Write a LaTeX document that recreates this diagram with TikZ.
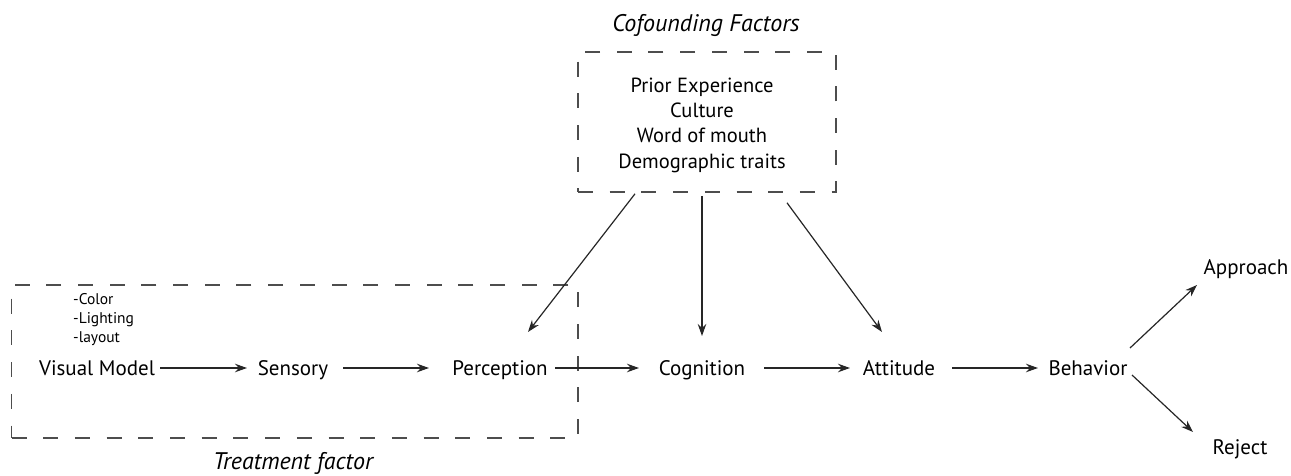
\documentclass[tikz,border=0pt]{standalone}
\usepackage{fontspec}
\setmainfont{PT Sans}
\usetikzlibrary{arrows.meta,calc}
\definecolor{boxgray}{HTML}{4D4D4D}
\definecolor{arrgray}{HTML}{262626}
\tikzset{
  lbl/.style={inner sep=0pt, anchor=base, font=\fontsize{21}{24}\selectfont},
  cfl/.style={inner sep=0pt, font=\fontsize{20.5}{25.3}\selectfont, align=center},
  ttl/.style={inner sep=0pt, anchor=base, font=\fontsize{24}{28}\selectfont\itshape},
  small/.style={inner sep=0pt, font=\fontsize{15.5}{19}\selectfont, align=left},
  dbox/.style={draw=boxgray, line width=1.6pt, dash pattern=on 15pt off 16.7pt, inner sep=0pt},
  arr/.style={-{Stealth[length=12pt,width=8.5pt]}, line width=1.2pt, arrgray},
}
\begin{document}
\begin{tikzpicture}[x=1pt,y=-1pt]
\useasboundingbox (0,0) rectangle (1291,476);
% boxes
\node[dbox, minimum width=258pt, minimum height=140pt] (cf) at (707,122) {};
\node[dbox, minimum width=566.5pt, minimum height=153pt] (tf) at (294.75,361.5) {};
\node[ttl] (cft) at (706,32) {Cofounding Factors};
\node[ttl] (tft) at (293,469) {Treatment factor};
\node[cfl] (cfx) at (702,125) {Prior Experience\\Culture\\Word of mouth\\Demographic traits};
\node[small, anchor=north west] (vmi) at (73,293) {-Color\\-Lighting\\-layout};
% main row
\node[lbl] (vm) at (97,375) {Visual Model};
\node[lbl] (sen) at (293,375) {Sensory};
\node[lbl] (per) at (500,375) {Perception};
\node[lbl] (cog) at (702,375) {Cognition};
\node[lbl] (att) at (899,375) {Attitude};
\node[lbl] (beh) at (1088,375) {Behavior};
\node[lbl] (app) at (1246,274) {Approach};
\node[lbl] (rej) at (1240,454) {Reject};
% arrows
\draw[arr] ($(vm.base)+(63,-7)$) -- ($(sen.base)+(-46,-7)$);
\draw[arr] ($(sen.base)+(50,-7)$) -- ($(per.base)+(-71,-7)$);
\draw[arr] ($(per.base)+(55,-7)$) -- ($(cog.base)+(-63,-7)$);
\draw[arr] ($(cog.base)+(62,-7)$) -- ($(att.base)+(-49,-7)$);
\draw[arr] ($(att.base)+(53,-7)$) -- ($(beh.base)+(-50,-7)$);
\draw[arr] ($(beh.base)+(42,-27)$) -- ($(app.base)+(-49,11)$);
\draw[arr] ($(beh.base)+(44,0)$) -- ($(rej.base)+(-47,-22)$);
\draw[arr] ($(cf.south)+(-72,1)$) -- ($(per.base)+(28,-43)$);
\draw[arr] ($(cf.south)+(-5,3)$) -- ($(cog.base)+(0,-39)$);
\draw[arr] ($(cf.south)+(80,10)$) -- ($(att.base)+(-17,-43)$);
\end{tikzpicture}
\end{document}
